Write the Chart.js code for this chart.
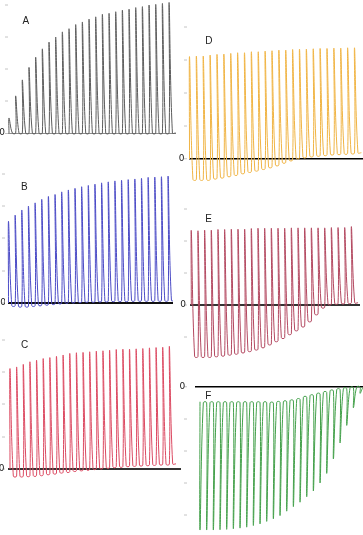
<!DOCTYPE html>
<html>
<head>
<meta charset="utf-8">
<script src="https://cdn.jsdelivr.net/npm/chart.js@4.4.0/dist/chart.umd.min.js"></script>
<style>
  body { margin: 0; background: #fff; width: 363px; height: 535px; position: relative; overflow: hidden;
         font-family: "Liberation Sans", Arial, sans-serif; }
  canvas { position: absolute; }
  .tag { position: absolute; font-size: 10px; line-height: 10px; color: #222; }
</style>
</head>
<body>
<canvas id="chartA"></canvas>
<canvas id="chartB"></canvas>
<canvas id="chartC"></canvas>
<canvas id="chartD"></canvas>
<canvas id="chartE"></canvas>
<canvas id="chartF"></canvas>

<div class="tag" style="left:22.5px;top:16px">A</div>
<div class="tag" style="left:21px;top:181.7px">B</div>
<div class="tag" style="left:21px;top:339.7px">C</div>
<div class="tag" style="left:205.3px;top:36px">D</div>
<div class="tag" style="left:205.3px;top:213.7px">E</div>
<div class="tag" style="left:205.3px;top:391.4px">F</div>

<script>
// ---------------- DATA ----------------
// peaks: value reached by each spike (25 spikes per panel)
// base: level where each spike starts (last entry = level at the end of the last decay)

const peaksA = [0.47, 1.16, 1.66, 2.05, 2.37, 2.63, 2.84, 3.00, 3.16, 3.26, 3.39, 3.47, 3.56,
                3.63, 3.71, 3.74, 3.79, 3.84, 3.87, 3.92, 3.95, 4.00, 4.02, 4.05, 4.08];
const baseA = [0, 0, 0, 0, 0, 0, 0, 0, 0, 0, 0, 0, 0, 0, 0, 0, 0, 0, 0, 0, 0, 0, 0, 0, 0, 0];

const peaksB = [2.53, 2.72, 2.88, 3.00, 3.10, 3.21, 3.30, 3.36, 3.44, 3.50, 3.55, 3.60, 3.64,
                3.68, 3.72, 3.75, 3.78, 3.80, 3.82, 3.84, 3.86, 3.89, 3.90, 3.91, 3.93];
const baseB = [0, -0.08, -0.10, -0.10, -0.08, -0.06, -0.04, -0.02, 0, 0.02, 0.03, 0.04, 0.05,
               0.05, 0.06, 0.06, 0.07, 0.07, 0.07, 0.08, 0.08, 0.08, 0.08, 0.08, 0.08, 0.08];

const peaksC = [3.11, 3.16, 3.24, 3.32, 3.37, 3.42, 3.45, 3.49, 3.53, 3.58, 3.60, 3.61, 3.63,
                3.65, 3.66, 3.68, 3.70, 3.71, 3.71, 3.72, 3.73, 3.75, 3.76, 3.77, 3.80];
const baseC = [0, -0.22, -0.22, -0.21, -0.20, -0.18, -0.15, -0.13, -0.10, -0.08, -0.05, -0.03, -0.01,
               0.01, 0.03, 0.05, 0.07, 0.08, 0.10, 0.11, 0.12, 0.13, 0.14, 0.15, 0.15, 0.16];

const peaksD = [3.10, 3.12, 3.12, 3.15, 3.17, 3.18, 3.20, 3.22, 3.22, 3.25, 3.25, 3.27, 3.28,
                3.30, 3.30, 3.32, 3.33, 3.33, 3.34, 3.35, 3.35, 3.36, 3.36, 3.37, 3.37];
const baseD = [0, -0.62, -0.62, -0.62, -0.58, -0.55, -0.51, -0.47, -0.42, -0.38, -0.34, -0.29, -0.24,
               -0.18, -0.10, -0.03, 0.03, 0.06, 0.09, 0.11, 0.13, 0.15, 0.16, 0.17, 0.18, 0.19];

const peaksE = [2.31, 2.32, 2.34, 2.34, 2.36, 2.36, 2.37, 2.37, 2.37, 2.39, 2.40, 2.40, 2.40,
                2.40, 2.40, 2.41, 2.41, 2.41, 2.41, 2.41, 2.41, 2.42, 2.42, 2.42, 2.45];
const baseE = [0, -1.61, -1.61, -1.61, -1.59, -1.57, -1.54, -1.51, -1.47, -1.43, -1.38, -1.31, -1.22,
               -1.12, -1.02, -0.90, -0.78, -0.66, -0.50, -0.28, -0.07, 0.03, 0.05, 0.06, 0.07, 0.07];

const peaksF = [-4.47, -4.47, -4.47, -4.46, -4.45, -4.43, -4.41, -4.38, -4.33, -4.28, -4.20, -4.12, -4.02,
                -3.88, -3.74, -3.60, -3.43, -3.25, -3.00, -2.70, -2.25, -1.75, -1.20, -0.65, -0.20];
const baseF = [-0.46, -0.49, -0.49, -0.49, -0.49, -0.49, -0.49, -0.49, -0.49, -0.49, -0.49, -0.50, -0.48,
               -0.46, -0.43, -0.39, -0.32, -0.27, -0.22, -0.17, -0.12, -0.08, -0.05, -0.02, 0, 0];

// ---------------- PANELS ----------------
// x0: canvas left, tickX: right end of the tick marks, left/right: plot area,
// first: pixel of the first spike, step: spike spacing, zeroY / unit: vertical placement
const panels = [
  { id: 'chartA', peaks: peaksA, base: baseA, color: '#5c5c5c', zeroColor: '#8c8c8c', zeroWidth: 1,
    x0: 0, tickX: 8, left: 8, right: 176, first: 9, step: 6.67, zeroY: 133, unit: 32,
    yMin: -0.2, yMax: 4.15, labelPad: 0 },
  { id: 'chartB', peaks: peaksB, base: baseB, color: '#4b4bc6', zeroColor: '#111', zeroWidth: 2,
    x0: 0, tickX: 5, left: 8, right: 173, first: 8.5, step: 6.65, zeroY: 303, unit: 32.3,
    yMin: -0.3, yMax: 4.1, labelPad: -4 },
  { id: 'chartC', peaks: peaksC, base: baseC, color: '#dc4a62', zeroColor: '#333', zeroWidth: 2,
    x0: 0, tickX: 5, left: 8, right: 181, first: 10, step: 6.64, zeroY: 469, unit: 32.3,
    yMin: -0.35, yMax: 4.05, labelPad: -2.5 },
  { id: 'chartD', peaks: peaksD, base: baseD, color: '#f0b444', zeroColor: '#000', zeroWidth: 1.5,
    x0: 178, tickX: 187, left: 189, right: 363, first: 189.5, step: 6.875, zeroY: 159, unit: 33,
    yMin: -0.75, yMax: 4.1, labelPad: -0.5 },
  { id: 'chartE', peaks: peaksE, base: baseE, color: '#b34860', zeroColor: '#333', zeroWidth: 2,
    x0: 178, tickX: 187, left: 190, right: 360, first: 191.3, step: 6.67, zeroY: 305, unit: 32,
    yMin: -1.75, yMax: 3.1, labelPad: -2 },
  { id: 'chartF', peaks: peaksF, base: baseF, color: '#43a04a', zeroColor: '#000', zeroWidth: 1.5,
    x0: 178, tickX: 187, left: 195, right: 363, first: 200, step: 6.67, zeroY: 387, unit: 32,
    yMin: -4.6, yMax: 0.25, labelPad: -1.3 }
];

// share of the spacing where the decay has levelled off (drawing style)
const KNEE = 0.5;

function buildSeries(peaks, base) {
  const pts = [];
  for (let i = 0; i < peaks.length; i++) {
    pts.push({ x: i, y: base[i] });            // rise starts here
    pts.push({ x: i, y: peaks[i] });           // spike tip
    pts.push({ x: i + KNEE, y: base[i + 1] }); // decay has settled
  }
  pts.push({ x: peaks.length, y: base[peaks.length] });
  return pts;
}

panels.forEach(p => {
  const canvas = document.getElementById(p.id);
  const top = Math.round(p.zeroY - p.yMax * p.unit);
  const bottom = Math.round(p.zeroY - p.yMin * p.unit);
  const w = p.right - p.x0;
  const h = bottom - top;
  canvas.width = w;
  canvas.height = h;
  canvas.style.left = p.x0 + 'px';
  canvas.style.top = top + 'px';
  canvas.style.width = w + 'px';
  canvas.style.height = h + 'px';

  const isZero = c => c.tick && Math.abs(c.tick.value) < 1e-9;

  new Chart(canvas, {
    type: 'line',
    data: {
      datasets: [{
        data: buildSeries(p.peaks, p.base),
        yAxisID: 'y',
        borderColor: p.color,
        borderWidth: 1,
        pointRadius: 0,
        tension: 0.4,
        fill: false,
        clip: { left: 2, top: 2, right: 0, bottom: 2 }
      }]
    },
    options: {
      responsive: false,
      animation: false,
      events: [],
      layout: { padding: 0, autoPadding: false },
      plugins: { legend: { display: false }, tooltip: { enabled: false } },
      scales: {
        y: {
          axis: 'y',
          position: 'left',
          weight: 2,
          min: (p.zeroY - bottom) / p.unit,
          max: (p.zeroY - top) / p.unit,
          afterFit: s => { s.width = p.tickX - p.x0; s.paddingTop = 0; s.paddingBottom = 0; },
          border: { display: false },
          grid: {
            drawOnChartArea: true,
            color: c => isZero(c) ? p.zeroColor : 'rgba(0,0,0,0)',
            lineWidth: c => isZero(c) ? p.zeroWidth : 0,
            drawTicks: true,
            tickLength: 3,
            tickWidth: 1,
            tickColor: '#c4c4c4'
          },
          ticks: {
            stepSize: 1,
            includeBounds: false,
            autoSkip: false,
            padding: p.labelPad,
            color: '#222',
            font: { family: 'DejaVu Sans', size: 9 },
            callback: v => Math.abs(v) < 1e-9 ? '0' : ''
          }
        },
        gap: {
          axis: 'y',
          position: 'left',
          weight: 1,
          min: 0,
          max: 1,
          afterFit: s => { s.width = p.left - p.tickX; s.paddingTop = 0; s.paddingBottom = 0; },
          border: { display: false },
          grid: { display: false },
          ticks: { display: false }
        },
        x: {
          type: 'linear',
          display: false,
          min: -(p.first - p.left) / p.step,
          max: (p.right - p.first) / p.step
        }
      }
    }
  });
});
</script>
</body>
</html>
